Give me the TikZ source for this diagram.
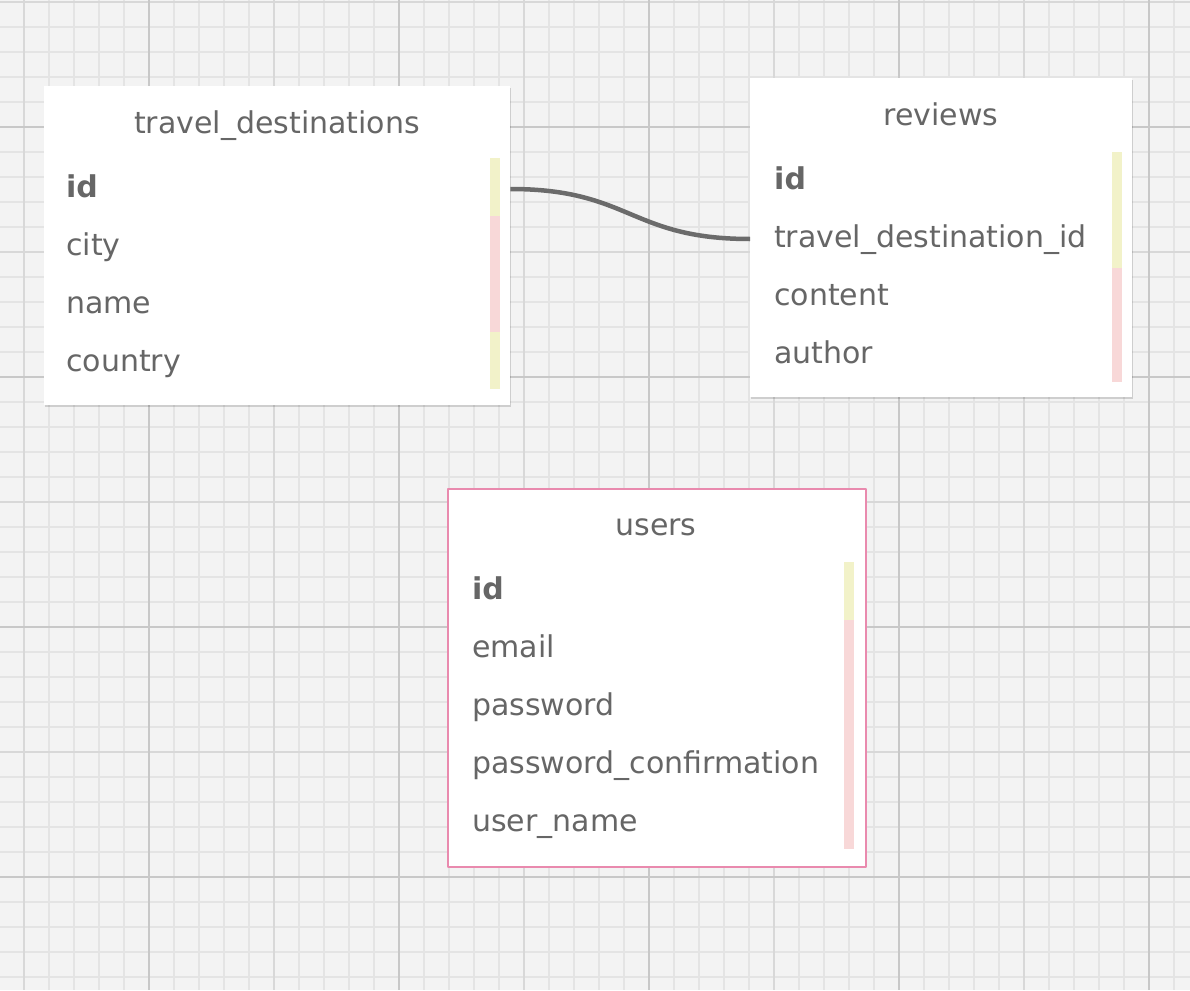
\documentclass[tikz,border=0pt]{standalone}
\usepackage{fontspec}
\setmainfont{DejaVu Sans}
\usetikzlibrary{shadows}
\definecolor{paper}{HTML}{F3F3F3}
\definecolor{gridminor}{HTML}{E4E4E4}
\definecolor{gridmid}{HTML}{D8D8D8}
\definecolor{gridmajor}{HTML}{C8C8C8}
\definecolor{textgray}{HTML}{666666}
\definecolor{linkgray}{HTML}{6B6B6B}
\definecolor{keyyellow}{HTML}{F2F2C9}
\definecolor{fieldpink}{HTML}{F8D8D8}
\definecolor{selpink}{HTML}{E98AAE}
\newcommand{\erdfont}{\fontsize{30}{36}\selectfont}
\tikzset{
	tablebox/.style={fill=white, anchor=north west, inner sep=0pt},
	shadowbox/.style={tablebox,
		drop shadow={shadow xshift=1pt, shadow yshift=-2pt, opacity=0.15, fill=black}},
	tabletitle/.style={anchor=base, inner sep=0pt, text=textgray},
	fieldrow/.style={anchor=base west, inner sep=0pt, text=textgray, text height=23pt, text depth=7pt},
	keyfield/.style={fieldrow, font=\erdfont\bfseries},
	relation/.style={draw=linkgray, line width=4.5pt},
}
\begin{document}
\begin{tikzpicture}[x=1pt, y=-1pt, font=\erdfont, line join=round]
	\useasboundingbox (0,0) rectangle (1190,990);
	% grid paper
	\fill[paper] (0,0) rectangle (1190,990);
	\foreach \gx in {24,49,...,1174} \draw[gridminor, line width=2pt] (\gx,0) -- (\gx,990);
	\foreach \gy in {2,27,...,977} \draw[gridminor, line width=2pt] (0,\gy) -- (1190,\gy);
	\foreach \gx in {24,274,...,1024} \draw[gridmid, line width=2pt] (\gx,0) -- (\gx,990);
	\foreach \gy in {2,252,...,752} \draw[gridmid, line width=2pt] (0,\gy) -- (1190,\gy);
	\foreach \gx in {149,399,...,1149} \draw[gridmajor, line width=2pt] (\gx,0) -- (\gx,990);
	\foreach \gy in {127,377,...,877} \draw[gridmajor, line width=2pt] (0,\gy) -- (1190,\gy);
	
	% travel_destinations
	\node[shadowbox, minimum width=466pt, minimum height=319pt] (tdbox) at (44,86) {};
	\node[tabletitle] (tdtitle) at (277,133) {travel\_destinations};
	\node[keyfield] (tdid) at (66,197) {id};
	\node[fieldrow] (tdcity) at (66,255) {city};
	\node[fieldrow] (tdname) at (66,313) {name};
	\node[fieldrow] (tdcountry) at (66,371) {country};
	\fill[keyyellow] (490,158) rectangle (500,216);
	\fill[fieldpink] (490,216) rectangle (500,332);
	\fill[keyyellow] (490,332) rectangle (500,389);
	
	% reviews
	\node[shadowbox, minimum width=382pt, minimum height=319pt] (rvbox) at (750,78) {};
	\node[tabletitle] (rvtitle) at (941,125) {reviews};
	\node[keyfield] (rvid) at (774,189) {id};
	\node[fieldrow] (rvfk) at (774,247) {travel\_destination\_id};
	\node[fieldrow] (rvcontent) at (774,305) {content};
	\node[fieldrow] (rvauthor) at (774,363) {author};
	\fill[keyyellow] (1112,152) rectangle (1122,268);
	\fill[fieldpink] (1112,268) rectangle (1122,382);
	
	% users
	\node[tablebox, draw=selpink, line width=2pt, minimum width=418pt, minimum height=378pt] (usbox) at (447,488) {};
	\node[tabletitle] (ustitle) at (656,535) {users};
	\node[keyfield] (usid) at (472,599) {id};
	\node[fieldrow] (usemail) at (472,657) {email};
	\node[fieldrow] (uspass) at (472,715) {password};
	\node[fieldrow] (usconf) at (472,773) {password\_confirmation};
	\node[fieldrow] (usname) at (472,831) {user\_name};
	\fill[keyyellow] (844,562) rectangle (854,620);
	\fill[fieldpink] (844,620) rectangle (854,849);
	
	% relation
	\draw[relation] (tdbox.east |- tdid.center) .. controls +(120,0) and +(-120,0) .. (rvbox.west |- rvfk.center);
\end{tikzpicture}
\end{document}
